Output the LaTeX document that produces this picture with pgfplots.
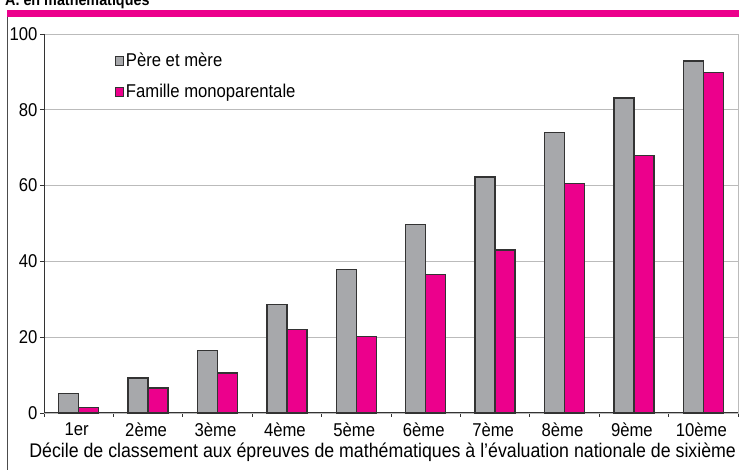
\documentclass[border=0pt]{standalone}
\usepackage{fontspec}
\setmainfont{Liberation Sans}[FakeStretch=0.9]
\usepackage{pgfplots}
\pgfplotsset{compat=1.18}
\definecolor{grisbar}{HTML}{A7A8AB}
\definecolor{rose}{HTML}{EC008C}
\definecolor{trait}{HTML}{333333}
\definecolor{grille}{HTML}{BBBBBB}
\begin{document}
\begin{tikzpicture}[x=1bp,y=1bp]
\useasboundingbox (0,0) rectangle (739,470);
\fill[rose] (7,453) rectangle (739,460);
\draw[black!70,line width=1.2bp] (7.5,0) -- (7.5,453);
\node[anchor=base west,inner sep=0,font=\bfseries\fontsize{16}{16}\selectfont] at (5,464) {A. en mathématiques};
\begin{axis}[at={(44bp,57bp)},anchor=south west,scale only axis,width=694bp,height=379bp,
  ybar=0pt,bar width=20bp,
  xmin=-0.5,xmax=9.5,ymin=0,ymax=100,
  ytick={0,20,...,100},ymajorgrids,grid style={grille,line width=0.8bp},
  xtick={0,...,9},xticklabels={1er,2ème,3ème,4ème,5ème,6ème,7ème,8ème,9ème,10ème},
  major x tick style={draw=none},
  minor xtick={-0.5,0.5,...,9.5},minor x tick style={trait,line width=0.8bp},
  major y tick style={trait,line width=0.8bp},
  tick align=outside,major tick length=4bp,minor tick length=4bp,
  xtick pos=bottom,ytick pos=left,
  axis line style={grille,line width=0.8bp},
  tick label style={font=\fontsize{18.6}{18.6}\selectfont},
  yticklabel style={xshift=1bp},
  xticklabel style={yshift=-2bp,xshift=-2bp},
  /pgf/number format/assume math mode=true,
  xlabel={Décile de classement aux épreuves de mathématiques à l'évaluation nationale de sixième},
  xlabel style={font=\fontsize{19.8}{19.8}\selectfont,at={(axis description cs:0.488,0)},anchor=base,yshift=-45bp},
  legend style={draw=none,fill=none,at={(axis description cs:0.097,0.96)},anchor=north west,
    font=\fontsize{18.6}{18.6}\selectfont,row sep=12bp},
  legend cell align=left,
  legend image code/.code={\draw[#1,line width=0.8bp] (0bp,-4.3bp) rectangle (8.6bp,4.3bp);},
  clip=false]
\addplot[fill=grisbar,draw=trait,line width=1.4bp] coordinates {(0,5.2) (1,9.2) (2,16.5) (3,28.6) (4,37.8) (5,49.8) (6,62.3) (7,74.0) (8,83.1) (9,92.9)};
\addlegendentry{Père et mère}
\addplot[fill=rose,draw=trait,line width=1.4bp] coordinates {(0,1.4) (1,6.6) (2,10.6) (3,22.0) (4,20.2) (5,36.5) (6,43.0) (7,60.6) (8,68.0) (9,89.9)};
\addlegendentry{Famille monoparentale}
\draw[trait,line width=1bp] (rel axis cs:0,1) -- (rel axis cs:0,0) -- (rel axis cs:1,0);
\end{axis}
\end{tikzpicture}
\end{document}
